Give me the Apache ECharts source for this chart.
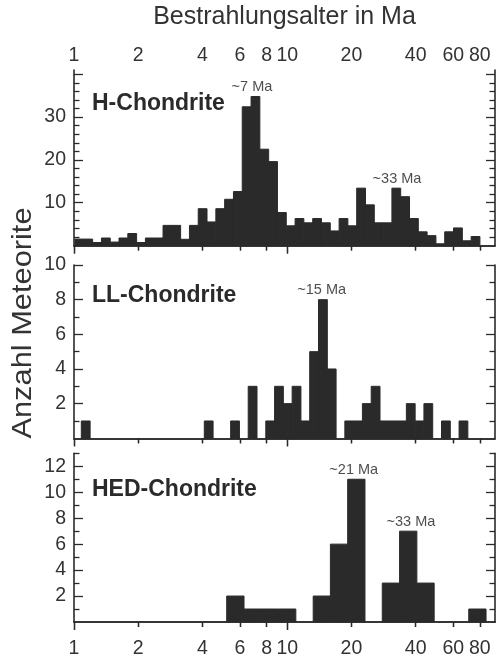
<!DOCTYPE html>
<html>
<head>
<meta charset="utf-8">
<script src="https://cdn.jsdelivr.net/npm/echarts@6/dist/echarts.min.js"></script>
<style>
  html, body { margin: 0; padding: 0; background: #fff; }
  #chart { width: 496px; height: 659px; }
</style>
</head>
<body>
<div id="chart"></div>
<script>
// Exposure ages on a logarithmic axis (Ma)
const ageTicks = [1, 2, 4, 6, 8, 10, 20, 40, 60, 80];
const decadeTicks = [1, 10];
const otherTicks = [2, 4, 6, 8, 20, 40, 60, 80];

// H-Chondrite: bin edges (Ma) and number of meteorites per bin
const hEdges = [1.011, 1.112, 1.223, 1.345, 1.479, 1.626, 1.788, 1.966, 2.162, 2.378,
  2.615, 2.876, 3.162, 3.478, 3.824, 4.205, 4.625, 5.086, 5.593, 6.150,
  6.764, 7.438, 8.180, 8.995, 9.892, 10.88, 11.96, 13.16, 14.47, 15.91,
  17.50, 19.24, 21.16, 23.27, 25.59, 28.14, 30.95, 34.03, 37.43, 41.16,
  45.26, 49.77, 54.74, 60.19, 66.20, 72.80, 80.05];
const hCounts = [1.5, 1.5, 0.7, 1.75, 0.8, 1.75, 2.8, 0.7, 1.75, 1.75,
  4.7, 4.7, 1.45, 4.7, 8.6, 5.5, 8.6, 10.8, 12.6, 32.4,
  34.8, 22.5, 19.6, 7.7, 4.6, 6.3, 5.3, 6.3, 5.3, 3.4,
  6.3, 4.6, 13.4, 9.5, 5.3, 5.3, 13.4, 11.4, 6.3, 3.2,
  2.3, 0.4, 3.2, 4.1, 1.1, 2.1];
const hYLabels = [10, 20, 30];
const hNotes = ['~7 Ma', '~33 Ma'];
const hNoteAges = [6.83, 32.7];
const hNoteBins = [20, 36];

// LL-Chondrite
const llEdges = [0.984, 1.082, 1.190, 1.308, 1.438, 1.581, 1.739, 1.912, 2.102, 2.311,
  2.541, 2.794, 3.072, 3.377, 3.713, 4.083, 4.489, 4.935, 5.426, 5.966,
  6.560, 7.213, 7.931, 8.720, 9.587, 10.54, 11.59, 12.74, 14.01, 15.41,
  16.94, 18.62, 20.48, 22.51, 24.75, 27.22, 29.92, 32.90, 36.18, 39.78,
  43.73, 48.08, 52.87, 58.13, 63.91, 70.27, 77.27];
const llCounts = [0, 1, 0, 0, 0, 0, 0, 0, 0, 0,
  0, 0, 0, 0, 0, 1, 0, 0, 1, 0,
  3, 0, 1, 3, 2, 3, 1, 5, 8, 4,
  0, 1, 1, 2, 3, 1, 1, 1, 2, 1,
  2, 0, 1, 0, 1, 0];
const llYLabels = [2, 4, 6, 8, 10];
const llNotes = ['~15 Ma'];
const llNoteAges = [14.5];
const llNoteBins = [28];

// HED-Chondrite
const hedEdges = [5.20, 6.27, 7.55, 9.10, 10.97, 13.23, 15.93, 19.20, 23.14, 27.89,
  33.62, 40.52, 48.84, 58.87, 70.95, 85.51];
const hedCounts = [2, 1, 1, 1, 0, 2, 6, 11, 0, 3, 7, 3, 0, 0, 1];
const hedYLabels = [2, 4, 6, 8, 10, 12];
const hedNotes = ['~21 Ma', '~33 Ma'];
const hedNoteAges = [20.5, 38.0];
const hedNoteBins = [7, 10];

const xTitle = 'Bestrahlungsalter in Ma';
const yTitle = 'Anzahl Meteorite';

// ---- layout and styling ----
const FONT = '"Liberation Sans", Arial, Helvetica, sans-serif';
const INK = '#2a2a2a';
const TEXT = '#333';
const AGE_MIN = 1, AGE_MAX = 94.2;
const GRID_LEFT = 74, GRID_RIGHT = 1;

const panels = [
  { title: 'H-Chondrite', edges: hEdges, counts: hCounts, yMax: 41, yStep: 10, yMinorStep: 2,
    yLabels: hYLabels, notes: hNotes, noteAges: hNoteAges, noteBins: hNoteBins,
    top: 70, height: 175.5, titleTop: 92, topLabels: true, bottomLabels: false },
  { title: 'LL-Chondrite', edges: llEdges, counts: llCounts, yMax: 10, yStep: 2, yMinorStep: 1,
    yLabels: llYLabels, notes: llNotes, noteAges: llNoteAges, noteBins: llNoteBins,
    top: 265, height: 173.3, titleTop: 284, topLabels: false, bottomLabels: false },
  { title: 'HED-Chondrite', edges: hedEdges, counts: hedCounts, yMax: 13, yStep: 2, yMinorStep: 1,
    yLabels: hedYLabels, notes: hedNotes, noteAges: hedNoteAges, noteBins: hedNoteBins,
    top: 453.3, height: 172.7, titleTop: 478, topLabels: false, bottomLabels: true }
];

// tick positions on the count axes: major ticks at yStep, minor ones in between
function stepTicks(step, max, skipStep) {
  const out = [];
  for (let v = step; v < max - 1e-9; v += step) {
    const r = Math.round(v * 1000) / 1000;
    if (skipStep && Math.abs(r / skipStep - Math.round(r / skipStep)) < 1e-9) continue;
    out.push(r);
  }
  return out;
}

const lineStyle = { color: INK, width: 1.6 };
const tickStyle = { color: INK, width: 1.3 };
const labelStyle = { color: TEXT, fontSize: 19.5, fontFamily: FONT };

const grids = [], xAxes = [], yAxes = [], series = [], titles = [];

panels.forEach((p, g) => {
  grids.push({ left: GRID_LEFT, right: GRID_RIGHT, top: p.top, height: p.height, containLabel: false });

  const xBase = { gridIndex: g, type: 'log', logBase: 10, min: AGE_MIN, max: AGE_MAX,
    splitLine: { show: false }, minorTick: { show: false }, minorSplitLine: { show: false } };
  // bottom: decade ticks (longer) + axis line + labels
  xAxes.push(Object.assign({}, xBase, {
    position: 'bottom',
    axisLine: { show: true, lineStyle },
    axisTick: { show: true, inside: false, length: 8, customValues: decadeTicks, lineStyle: tickStyle },
    axisLabel: Object.assign({ show: p.bottomLabels, customValues: ageTicks, margin: 17 }, labelStyle)
  }));
  // bottom: remaining ticks (shorter)
  xAxes.push(Object.assign({}, xBase, {
    position: 'bottom',
    axisLine: { show: false },
    axisTick: { show: true, inside: false, length: 5, customValues: otherTicks, lineStyle: tickStyle },
    axisLabel: { show: false }
  }));
  // top: decade ticks pointing inward + axis line + labels
  const topAxis = Object.assign({}, xBase, {
    position: 'top',
    axisLine: { show: true, lineStyle },
    axisTick: { show: true, inside: true, length: 8, customValues: decadeTicks, lineStyle: tickStyle },
    axisLabel: Object.assign({ show: p.topLabels, customValues: ageTicks, margin: 4 }, labelStyle)
  });
  if (p.topLabels) {
    topAxis.name = xTitle;
    topAxis.nameLocation = 'middle';
    topAxis.nameGap = 40;
    topAxis.nameTextStyle = { color: TEXT, fontSize: 25, fontFamily: FONT };
  }
  xAxes.push(topAxis);
  // top: remaining ticks pointing inward
  xAxes.push(Object.assign({}, xBase, {
    position: 'top',
    axisLine: { show: false },
    axisTick: { show: true, inside: true, length: 5, customValues: otherTicks, lineStyle: tickStyle },
    axisLabel: { show: false }
  }));

  const majors = stepTicks(p.yStep, p.yMax + 1e-6);
  const minors = stepTicks(p.yMinorStep, p.yMax + 1e-6, p.yStep);
  const yBase = { gridIndex: g, type: 'value', min: 0, max: p.yMax, splitLine: { show: false } };
  ['left', 'right'].forEach(side => {
    yAxes.push(Object.assign({}, yBase, {
      position: side,
      axisLine: { show: true, lineStyle },
      axisTick: { show: true, inside: true, length: 9, customValues: majors, lineStyle: tickStyle },
      axisLabel: side === 'left'
        ? Object.assign({ show: true, customValues: p.yLabels, margin: 8 }, labelStyle)
        : { show: false }
    }));
    yAxes.push(Object.assign({}, yBase, {
      position: side,
      axisLine: { show: false },
      axisTick: { show: true, inside: true, length: 5.5, customValues: minors, lineStyle: tickStyle },
      axisLabel: { show: false }
    }));
  });

  // histogram bars: one rectangle per bin, from its lower to its upper edge
  const bins = p.counts.map((c, i) => [p.edges[i], p.edges[i + 1], c]);
  series.push({
    type: 'custom',
    coordinateSystem: 'cartesian2d',
    xAxisIndex: 4 * g,
    yAxisIndex: 4 * g,
    encode: { x: [0, 1], y: 2 },
    silent: true,
    data: bins,
    renderItem: function (params, api) {
      const c = api.value(2);
      if (!c) return null;
      const a = api.coord([api.value(0), 0]);
      const b = api.coord([api.value(1), c]);
      return {
        type: 'rect',
        shape: { x: a[0], y: b[1], width: b[0] - a[0], height: a[1] - b[1] },
        style: { fill: INK, stroke: INK, lineWidth: 1 }
      };
    }
  });

  // peak annotations above their bars
  series.push({
    type: 'scatter',
    xAxisIndex: 4 * g,
    yAxisIndex: 4 * g,
    symbolSize: 0,
    silent: true,
    data: p.notes.map((t, i) => [p.noteAges[i], p.counts[p.noteBins[i]], t]),
    label: {
      show: true, position: 'top', distance: 2,
      formatter: q => q.data[2],
      color: '#222', fontSize: 14.5, fontFamily: FONT
    }
  });

  titles.push({
    text: p.title, left: 92, top: p.titleTop, padding: 0,
    textStyle: { color: INK, fontSize: 23, fontWeight: 'bold', fontFamily: FONT }
  });
});

const chart = echarts.init(document.getElementById('chart'), null, { renderer: 'canvas' });
chart.setOption({
  animation: false,
  backgroundColor: '#fff',
  title: titles,
  grid: grids,
  xAxis: xAxes,
  yAxis: yAxes,
  series: series,
  graphic: [{
    type: 'text',
    x: 23.5, y: 323,
    rotation: Math.PI / 2,
    scaleX: 1.1,
    style: { text: yTitle, fill: TEXT, fontSize: 28, fontFamily: FONT, align: 'center', verticalAlign: 'middle' }
  }]
});
</script>
</body>
</html>
